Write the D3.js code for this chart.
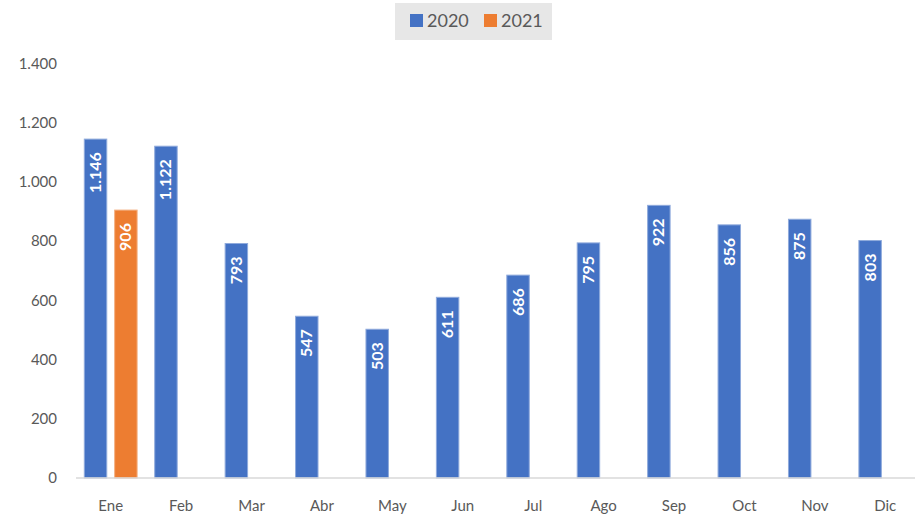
<!DOCTYPE html>
<html>
<head>
<meta charset="utf-8">
<script src="https://cdn.jsdelivr.net/npm/d3@7"></script>
<style>
  body { margin: 0; background: #fff; }
  svg { display: block; font-family: Lato, "Open Sans", sans-serif; }
</style>
</head>
<body>
<div id="chart"></div>
<script>
const months = ['Ene', 'Feb', 'Mar', 'Abr', 'May', 'Jun', 'Jul', 'Ago', 'Sep', 'Oct', 'Nov', 'Dic'];
const series = ['2020', '2021'];
const values2020 = [1146, 1122, 793, 547, 503, 611, 686, 795, 922, 856, 875, 803];
const values2021 = [906, null, null, null, null, null, null, null, null, null, null, null];
const yTicks = [0, 200, 400, 600, 800, 1000, 1200, 1400];
const colors = { '2020': '#4472C4', '2021': '#ED7D31' };
const strokes = { '2020': '#8FAADC', '2021': '#F4B183' };

const width = 915, height = 518;
const locale = d3.formatLocale({ decimal: ',', thousands: '.', grouping: [3], currency: ['', ''] });
const fmt = locale.format(',d');

const svg = d3.select('#chart').append('svg')
  .attr('width', width)
  .attr('height', height);

const x0 = d3.scaleBand()
  .domain(months)
  .range([75.5, 920.5])
  .paddingInner(0.25)
  .paddingOuter(0.125);

const x1 = d3.scaleBand()
  .domain(series)
  .range([0, x0.bandwidth()])
  .paddingInner(0.26);

const y = d3.scaleLinear()
  .domain([0, 1400])
  .range([478, 64]);

// y axis labels (no line)
svg.append('g')
  .selectAll('text')
  .data(yTicks)
  .enter()
  .append('text')
  .attr('x', 57)
  .attr('y', d => y(d) + 5)
  .attr('text-anchor', 'end')
  .attr('font-size', '15px')
  .attr('fill', '#595959')
  .text(d => fmt(d));

const rows = months.map((m, i) => ({ month: m, values: [
  { key: '2020', value: values2020[i] },
  { key: '2021', value: values2021[i] }
].filter(d => d.value != null) }));

const groups = svg.selectAll('.group')
  .data(rows)
  .enter()
  .append('g')
  .attr('class', 'group')
  .attr('transform', d => `translate(${x0(d.month)},0)`);

groups.selectAll('rect')
  .data(d => d.values)
  .enter()
  .append('rect')
  .attr('x', d => x1(d.key))
  .attr('y', d => y(d.value))
  .attr('width', x1.bandwidth())
  .attr('height', d => y(0) - y(d.value))
  .attr('fill', d => colors[d.key])
  .attr('stroke', d => strokes[d.key])
  .attr('stroke-width', 1);

groups.selectAll('.bar-label')
  .data(d => d.values)
  .enter()
  .append('text')
  .attr('class', 'bar-label')
  .attr('transform', d => `translate(${x1(d.key) + x1.bandwidth() / 2 + 5.5},${y(d.value) + 13}) rotate(-90)`)
  .attr('text-anchor', 'end')
  .attr('font-size', '16px')
  .attr('font-weight', 'bold')
  .attr('fill', '#fff')
  .text(d => fmt(d.value));

// x axis line
svg.append('line')
  .attr('x1', 76)
  .attr('x2', 915)
  .attr('y1', y(0))
  .attr('y2', y(0))
  .attr('stroke', '#D9D9D9')
  .attr('stroke-width', 1.5);

svg.append('g')
  .selectAll('text')
  .data(months)
  .enter()
  .append('text')
  .attr('x', d => x0(d) + x0.bandwidth() / 2)
  .attr('y', 511)
  .attr('text-anchor', 'middle')
  .attr('font-size', '15px')
  .attr('fill', '#595959')
  .text(d => d);

// legend
const legend = svg.append('g');
legend.append('rect')
  .attr('x', 395)
  .attr('y', 3)
  .attr('width', 157)
  .attr('height', 37)
  .attr('fill', '#E7E7E7');

const legendItems = legend.selectAll('.item')
  .data(series)
  .enter()
  .append('g')
  .attr('transform', (d, i) => `translate(${410 + i * 74},14)`);

legendItems.append('rect')
  .attr('width', 13)
  .attr('height', 13)
  .attr('fill', d => colors[d]);

legendItems.append('text')
  .attr('x', 17)
  .attr('y', 13)
  .attr('font-size', '18px')
  .attr('fill', '#595959')
  .text(d => d);
</script>
</body>
</html>
